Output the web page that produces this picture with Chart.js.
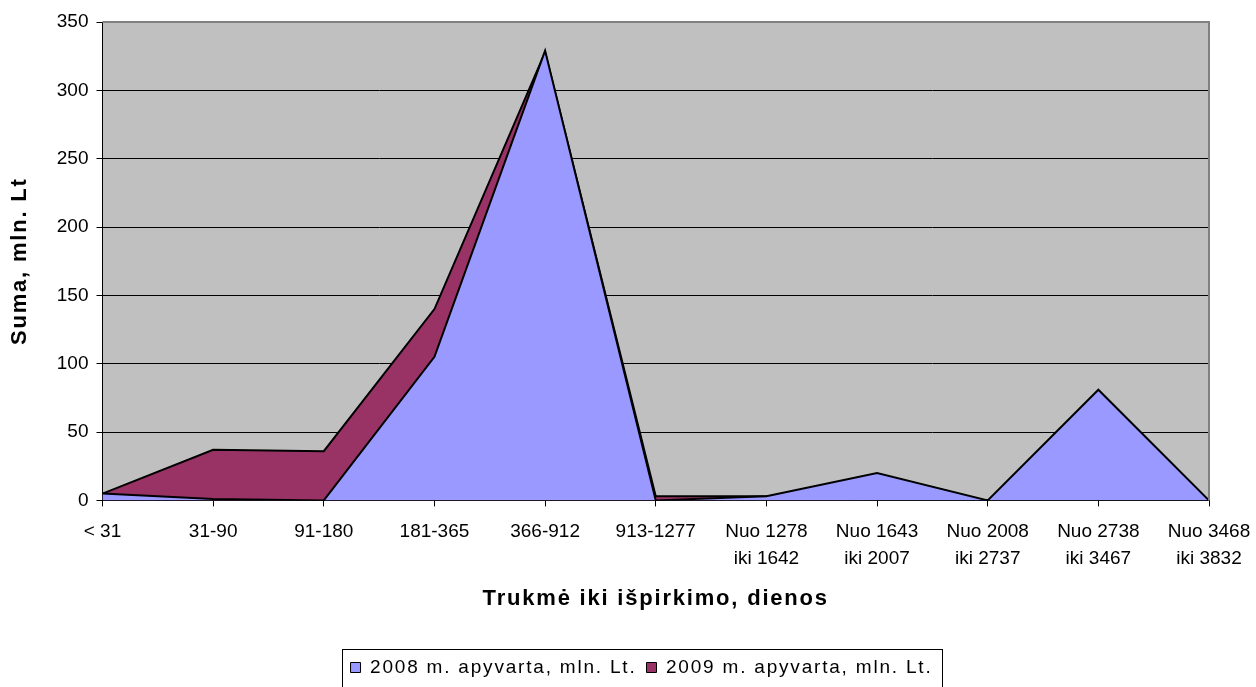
<!DOCTYPE html>
<html>
<head>
<meta charset="utf-8">
<script src="https://cdn.jsdelivr.net/npm/chart.js@4"></script>
<style>
    body { margin: 0; background: #ffffff; }
    #wrap { width: 1256px; height: 687px; }
</style>
</head>
<body>
<div id="wrap"><canvas id="chart"></canvas></div>
<script>
const categories = [
    '< 31', '31-90', '91-180', '181-365', '366-912', '913-1277',
    ['Nuo 1278', 'iki 1642'], ['Nuo 1643', 'iki 2007'], ['Nuo 2008', 'iki 2737'],
    ['Nuo 2738', 'iki 3467'], ['Nuo 3468', 'iki 3832']
];
const turnover2008 = [5, 1, 0, 105, 329, 0, 3, 20, 0, 81, 0];
const turnover2009 = [5, 37, 36, 140, 328, 3, 3, 0, 0, 0, 0];
const seriesNames = ['2008 m. apyvarta, mln. Lt.', '2009 m. apyvarta, mln. Lt.'];
const yTicks = [0, 50, 100, 150, 200, 250, 300, 350];

const FONT = "'Liberation Sans', Arial, sans-serif";
const SPACING = '1.8px';
const LEGEND_SHIFT = 37;

Chart.defaults.font.family = FONT;
Chart.defaults.color = '#000000';

// Excel-like look: grey plot area, spaced-out titles, boxed legend
const excelLook = {
    id: 'excelLook',
    beforeUpdate(chart) {
        chart.ctx.letterSpacing = SPACING;
    },
    afterLayout(chart) {
        chart.legend.left += LEGEND_SHIFT;
        chart.legend.right += LEGEND_SHIFT;
    },
    beforeDraw(chart) {
        const ctx = chart.ctx;
        ctx.letterSpacing = SPACING;
        Object.values(chart.scales).forEach(s => {
            if (s._plainLabels) return;
            const draw = s.drawLabels.bind(s);
            s.drawLabels = (area) => {
                ctx.save();
                ctx.letterSpacing = '0px';
                draw(area);
                ctx.restore();
            };
            s._plainLabels = true;
        });
        const a = chart.chartArea;
        ctx.save();
        ctx.fillStyle = '#c0c0c0';
        ctx.fillRect(a.left, a.top, a.right - a.left, a.bottom - a.top);
        ctx.restore();
    },
    afterDatasetsDraw(chart) {
        const a = chart.chartArea;
        const ctx = chart.ctx;
        ctx.save();
        ctx.strokeStyle = '#808080';
        ctx.lineWidth = 2;
        ctx.beginPath();
        ctx.moveTo(a.left, a.top);
        ctx.lineTo(a.right, a.top);
        ctx.lineTo(a.right, a.bottom);
        ctx.stroke();
        ctx.restore();
    },
    afterDraw(chart) {
        const boxes = chart.legend.legendHitBoxes;
        if (!boxes || !boxes.length) return;
        const left = Math.min(...boxes.map(b => b.left)) - 9;
        const right = Math.max(...boxes.map(b => b.left + b.width)) + 9;
        const top = boxes[0].top - 9;
        const ctx = chart.ctx;
        ctx.save();
        ctx.strokeStyle = '#000000';
        ctx.lineWidth = 1;
        ctx.strokeRect(Math.round(left) + 0.5, Math.round(top) + 0.5, Math.round(right - left), 80);
        ctx.restore();
    }
};

document.addEventListener("DOMContentLoaded", () => {
    const chart = document.getElementById('chart');

    new Chart(chart, {
        type: 'line',
        data: {
            labels: categories,
            datasets: [{
                label: seriesNames[0],
                data: turnover2008,
                backgroundColor: '#9999ff',
                borderColor: '#000000',
                borderWidth: 2,
                fill: 'origin',
                pointRadius: 0,
                tension: 0
            }, {
                label: seriesNames[1],
                data: turnover2009,
                backgroundColor: '#993366',
                borderColor: '#000000',
                borderWidth: 2,
                fill: 'origin',
                pointRadius: 0,
                tension: 0
            }]
        },
        options: {
            responsive: true,
            maintainAspectRatio: false,
            animation: false,
            layout: { padding: { top: 22, right: 47, left: 0, bottom: 0 } },
            plugins: {
                tooltip: { enabled: false },
                legend: {
                    position: 'bottom',
                    labels: {
                        boxWidth: 10,
                        boxHeight: 10,
                        padding: 10,
                        color: '#000000',
                        font: { size: 19 },
                        generateLabels: (c) => Chart.defaults.plugins.legend.labels.generateLabels(c)
                            .map(l => ({ ...l, lineWidth: 1, strokeStyle: '#000000' }))
                    }
                }
            },
            scales: {
                x: {
                    offset: false,
                    afterFit: (scale) => { scale.paddingLeft = 0; scale.paddingRight = 0; },
                    grid: {
                        drawOnChartArea: false,
                        drawTicks: true,
                        tickLength: 6,
                        tickColor: '#000000'
                    },
                    border: { color: '#000000', width: 2 },
                    ticks: {
                        maxRotation: 0,
                        autoSkip: false,
                        padding: 12,
                        font: { size: 19, lineHeight: 1.4 }
                    },
                    title: {
                        display: true,
                        text: 'Trukmė iki išpirkimo, dienos',
                        font: { size: 22, weight: 'bold' },
                        padding: { top: 2, bottom: 36 }
                    }
                },
                y: {
                    min: 0,
                    max: 350,
                    afterBuildTicks: (axis) => { axis.ticks = yTicks.map(v => ({ value: v })); },
                    grid: {
                        color: (ctx) => ctx.tick && ctx.tick.value === 350 ? '#808080' : '#000000',
                        lineWidth: 1,
                        tickLength: 6,
                        tickColor: '#000000'
                    },
                    border: { color: '#000000', width: 1 },
                    ticks: {
                        padding: 8,
                        font: { size: 19 }
                    },
                    title: {
                        display: true,
                        text: 'Suma, mln. Lt',
                        font: { size: 22, weight: 'bold' },
                        padding: { top: 7, bottom: 10 }
                    }
                }
            }
        },
        plugins: [excelLook]
    });
});
</script>
</body>
</html>
